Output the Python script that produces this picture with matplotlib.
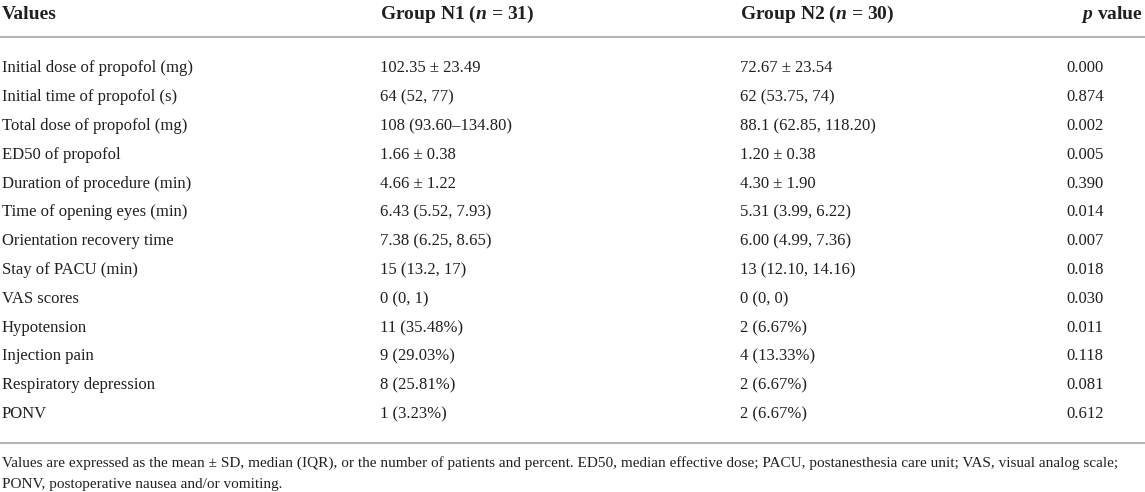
import matplotlib
matplotlib.use("Agg")
import matplotlib.pyplot as plt

plt.rcParams['font.family'] = ['Liberation Serif', 'DejaVu Serif']
plt.rcParams['mathtext.fontset'] = 'custom'
plt.rcParams['mathtext.rm'] = 'Liberation Serif:bold'
plt.rcParams['mathtext.it'] = 'Liberation Serif:italic:bold'

# table content
headers = ["Values", r"Group N1 ($n$ = 31)", r"Group N2 ($n$ = 30)", r"$p$ value"]
variables = [
    "Initial dose of propofol (mg)",
    "Initial time of propofol (s)",
    "Total dose of propofol (mg)",
    "ED50 of propofol",
    "Duration of procedure (min)",
    "Time of opening eyes (min)",
    "Orientation recovery time",
    "Stay of PACU (min)",
    "VAS scores",
    "Hypotension",
    "Injection pain",
    "Respiratory depression",
    "PONV",
]
group_n1 = [
    "102.35 ± 23.49", "64 (52, 77)", "108 (93.60–134.80)", "1.66 ± 0.38",
    "4.66 ± 1.22", "6.43 (5.52, 7.93)", "7.38 (6.25, 8.65)", "15 (13.2, 17)",
    "0 (0, 1)", "11 (35.48%)", "9 (29.03%)", "8 (25.81%)", "1 (3.23%)",
]
group_n2 = [
    "72.67 ± 23.54", "62 (53.75, 74)", "88.1 (62.85, 118.20)", "1.20 ± 0.38",
    "4.30 ± 1.90", "5.31 (3.99, 6.22)", "6.00 (4.99, 7.36)", "13 (12.10, 14.16)",
    "0 (0, 0)", "2 (6.67%)", "4 (13.33%)", "2 (6.67%)", "2 (6.67%)",
]
p_values = ["0.000", "0.874", "0.002", "0.005", "0.390", "0.014", "0.007",
            "0.018", "0.030", "0.011", "0.118", "0.081", "0.612"]
footnote = [
    "Values are expressed as the mean ± SD, median (IQR), or the number of patients and percent. "
    "ED50, median effective dose; PACU, postanesthesia care unit; VAS, visual analog scale;",
    "PONV, postoperative nausea and/or vomiting.",
]

W, H = 1145, 492
fig = plt.figure(figsize=(W / 100, H / 100), dpi=100)
ax = fig.add_axes([0, 0, 1, 1])
ax.set_xlim(0, W)
ax.set_ylim(H, 0)
ax.axis("off")

col_x = [2, 380, 740, 1066]
text_color = "#231f20"
line_color = "#b4b4b4"

# header (baseline aligned so all columns sit on the same line)
for i, h in enumerate(headers):
    if i == 3:
        ax.text(1143, 19, h, ha="right", va="baseline", fontsize=14,
                fontweight="bold", color=text_color)
    else:
        ax.text(col_x[i], 19, h, ha="left", va="baseline", fontsize=14,
                fontweight="bold", color=text_color)

ax.plot([0, W], [37, 37], color=line_color, lw=1.5, solid_capstyle="butt")

# body rows, baselines rounded to whole pixels to avoid jitter
row0, step = 67, 28.8
for r in range(len(variables)):
    y = round(row0 + r * step + 5.5)
    for x, s in zip(col_x, [variables[r], group_n1[r], group_n2[r], p_values[r]]):
        ax.text(x, y, s, ha="left", va="baseline", fontsize=12, color=text_color)

ax.plot([0, W], [443, 443], color=line_color, lw=1.5, solid_capstyle="butt")

# footnote
for k, line in enumerate(footnote):
    ax.text(2, 467 + k * 21, line, ha="left", va="baseline", fontsize=11,
            color=text_color)

fig.savefig("out.png", dpi=100)
